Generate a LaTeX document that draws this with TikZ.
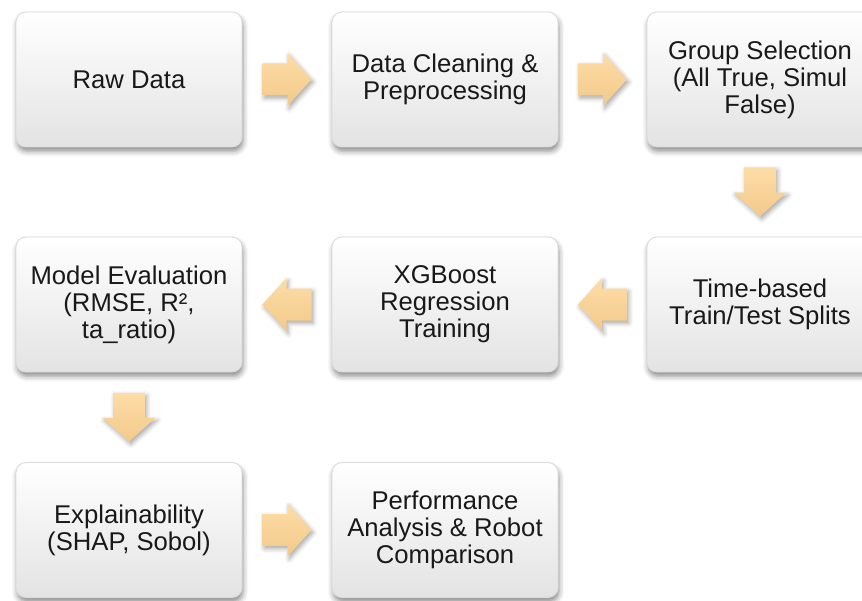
\documentclass[tikz,border=0pt]{standalone}
\usepackage{fontspec}
\setmainfont{Liberation Sans}
\usetikzlibrary{calc,shadows.blur}
\definecolor{arrowtop}{HTML}{FDDDA6}
\definecolor{arrowbot}{HTML}{F2C98B}
\tikzset{
	stagebox/.style={rounded corners=0.2cm, draw=black!14, line width=0.5pt,
		top color=white, middle color=black!2, bottom color=black!11,
		minimum width=4.52cm, minimum height=2.7cm, align=center, text=black!90,
		font=\fontsize{14.6}{15.4}\selectfont,
		blur shadow={shadow xshift=0.6pt, shadow yshift=-2.5pt, shadow blur radius=3pt, shadow opacity=45}},
	flowarrow/.pic={
		\path[top color=arrowtop, bottom color=arrowbot,
			blur shadow={shadow xshift=1pt, shadow yshift=-1.5pt, shadow blur radius=2.5pt, shadow opacity=35}]
			(-0.49,-0.32) -- (0.01,-0.32) -- (0.01,-0.53) -- (0.49,0) -- (0.01,0.53) -- (0.01,0.32) -- (-0.49,0.32) -- cycle;
	}
}

\begin{document}
\begin{tikzpicture}
		%%%%% START %%%%%
		\useasboundingbox (0, 0) rectangle (17.24, 12);
		
		% first row
		\node[stagebox] (raw) at (2.58, 10.41) {Raw Data};
		\node[stagebox] (clean) at (8.9, 10.41) {Data Cleaning \&\\Preprocessing};
		\node[stagebox] (group) at (15.2, 10.41) {Group Selection\\(All True, Simul\\False)};
		
		% second row
		\node[stagebox] (split) at (15.2, 5.91) {Time-based\\Train/Test Splits};
		\node[stagebox] (xgb) at (8.9, 5.91) {XGBoost\\Regression\\Training};
		\node[stagebox] (eval) at (2.58, 5.91) {Model Evaluation\\(RMSE, R², \\ta\_ratio)};
		
		% third row
		\node[stagebox] (explain) at (2.58, 1.4) {Explainability\\(SHAP, Sobol)};
		\node[stagebox] (perf) at (8.9, 1.4) {Performance\\Analysis \& Robot\\Comparison};
		
		% block arrows
		\pic at ($(raw.east)!0.5!(clean.west)$) {flowarrow};
		\pic at ($(clean.east)!0.5!(group.west)$) {flowarrow};
		\pic[rotate=-90] at ($(group.south)!0.5!(split.north)$) {flowarrow};
		\pic[rotate=180] at ($(split.west)!0.5!(xgb.east)$) {flowarrow};
		\pic[rotate=180] at ($(xgb.west)!0.5!(eval.east)$) {flowarrow};
		\pic[rotate=-90] at ($(eval.south)!0.5!(explain.north)$) {flowarrow};
		\pic at ($(explain.east)!0.5!(perf.west)$) {flowarrow};
		
		%%%%% END %%%%%
	\end{tikzpicture}
\end{document}
